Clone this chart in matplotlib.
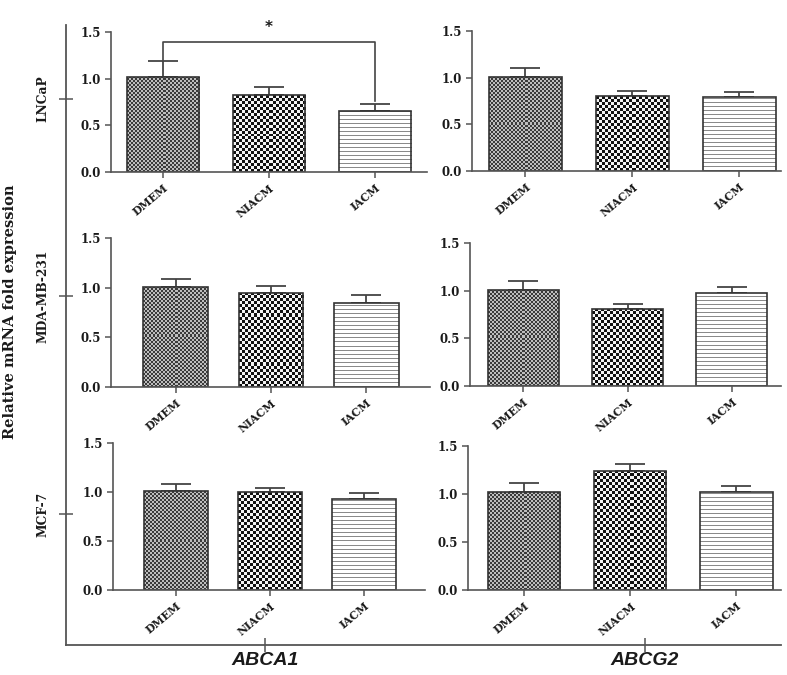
import numpy as np
import matplotlib
matplotlib.use("Agg")
import matplotlib.pyplot as plt
from matplotlib.colors import ListedColormap

groups = ["DMEM", "NIACM", "IACM"]
cell_lines = ["LNCaP", "MDA-MB-231", "MCF-7"]
genes = ["ABCA1", "ABCG2"]

# mean fold expression and upper error (SEM), rows = cell lines
abca1_mean = [[1.02, 0.82, 0.65],
              [1.01, 0.95, 0.85],
              [1.01, 1.00, 0.93]]
abca1_err = [[0.17, 0.09, 0.08],
             [0.08, 0.07, 0.08],
             [0.07, 0.04, 0.06]]
abcg2_mean = [[1.01, 0.80, 0.79],
              [1.01, 0.81, 0.98],
              [1.02, 1.24, 1.02]]
abcg2_err = [[0.09, 0.06, 0.06],
             [0.09, 0.05, 0.06],
             [0.09, 0.07, 0.06]]
yticks = [0.0, 0.5, 1.0, 1.5]
ytick_labels = ["0.0", "0.5", "1.0", "1.5"]
bracket_y = 1.39

W, H = 787, 675
# panel boxes in pixels: left, right, top, bottom
boxes = {(0, 0): (111, 427, 32, 172), (0, 1): (472, 781, 31, 171),
         (1, 0): (111, 430, 238, 387), (1, 1): (470, 781, 243, 386),
         (2, 0): (113, 425, 443, 590), (2, 1): (468, 781, 446, 590)}
xlims = {(0, 0): (-0.49, 2.49), (0, 1): (-0.50, 2.39),
         (1, 0): (-0.68, 2.67), (1, 1): (-0.51, 2.47),
         (2, 0): (-0.67, 2.65), (2, 1): (-0.53, 2.42)}
# outer frame box and its tick positions (pixels)
frame = (66, 781, 25, 645)
row_ticks_px = [99, 296, 514]
col_ticks_px = [265, 645]

axcol = "#555555"
txtcol = "#1a1a1a"


def px_rect(l, r, t, b):
    return [l / W, 1 - b / H, (r - l) / W, (b - t) / H]


def fill_bar(ax, patch, kind):
    x0, y0 = patch.get_x(), patch.get_y()
    w, h = patch.get_width(), patch.get_height()
    p0 = ax.transData.transform((x0, y0))
    p1 = ax.transData.transform((x0 + w, y0 + h))
    wpx, hpx = p1[0] - p0[0], p1[1] - p0[1]
    if kind == 0:
        cell, cols = 2.0, ["#3a3a3a", "#bdbdbd"]
    elif kind == 1:
        cell, cols = 3.0, ["#111111", "#f4f4f4"]
    else:
        cell, cols = 1.0, ["#8a8a8a", "#ffffff"]
    nx = max(1, int(round(wpx / cell)))
    ny = max(1, int(round(hpx / cell)))
    ii, jj = np.indices((ny, nx))
    if kind == 2:
        pat = (ii % 4 != 0).astype(int)
    else:
        pat = (ii + jj) % 2
    im = ax.imshow(pat, cmap=ListedColormap(cols), vmin=0, vmax=1,
                   extent=(x0, x0 + w, y0, y0 + h), origin="lower",
                   interpolation="nearest", aspect="auto", zorder=1.5)
    im.set_clip_path(patch)


fig = plt.figure(figsize=(W / 100, H / 100), dpi=100)

# outer frame
fl, fr, ft, fb = frame
outer = fig.add_axes(px_rect(fl, fr, ft, fb))
outer.set_xlim(fl, fr)
outer.set_ylim(fb, ft)
outer.patch.set_alpha(0)
for s in ["top", "right"]:
    outer.spines[s].set_visible(False)
for s in ["left", "bottom"]:
    outer.spines[s].set_color(axcol)
    outer.spines[s].set_linewidth(1.3)

data = [abca1_mean, abcg2_mean]
errs = [abca1_err, abcg2_err]
x = np.arange(len(groups))

for (r, c), (l, rr, t, b) in boxes.items():
    ax = fig.add_axes(px_rect(l, rr, t, b))
    ax.set_xlim(*xlims[(r, c)])
    ax.set_ylim(0, 1.5)
    vals = data[c][r]
    ev = errs[c][r]
    bars = ax.bar(x, vals, width=0.68, facecolor="none", edgecolor="#333333",
                  linewidth=1.2, zorder=2,
                  yerr=[np.zeros(3), ev], capsize=11,
                  error_kw=dict(ecolor="#444444", elinewidth=1.3, capthick=1.3, zorder=1))
    for k, p in enumerate(bars.patches):
        fill_bar(ax, p, k)
    ax.set_xlim(*xlims[(r, c)])
    ax.set_ylim(0, 1.5)
    for s in ["top", "right"]:
        ax.spines[s].set_visible(False)
    for s in ["left", "bottom"]:
        ax.spines[s].set_color(axcol)
        ax.spines[s].set_linewidth(1.2)
    ax.set_yticks(yticks)
    ax.set_yticklabels(ytick_labels, family="DejaVu Serif", fontweight="bold",
                       fontsize=8.5, color=txtcol)
    ax.set_xticks(x)
    ax.set_xticklabels(groups, family="DejaVu Serif", fontweight="bold",
                       fontsize=7.8, color=txtcol, rotation=40, ha="right",
                       rotation_mode="anchor")
    ax.tick_params(axis="both", color=axcol, width=1.1, length=4.5, pad=2.5)
    ax.tick_params(axis="x", pad=3)

    if (r, c) == (0, 0):
        top_l = vals[0] + ev[0]
        top_r = vals[2] + ev[2] + 0.03
        ax.plot([0, 0, 2, 2], [top_l, bracket_y, bracket_y, top_r],
                color="#444444", lw=1.2, clip_on=False, zorder=3)
        ax.text(1, bracket_y + 0.08, "*", ha="center", va="bottom",
                fontsize=11, fontweight="bold", color=txtcol, clip_on=False)

outer.set_yticks(row_ticks_px)
outer.set_yticklabels(cell_lines, rotation=90, va="center", family="DejaVu Serif",
                      fontweight="bold", fontsize=8.8, color=txtcol)
outer.set_xticks(col_ticks_px)
outer.set_xticklabels(genes, family="Liberation Sans", style="italic",
                      fontweight="bold", fontsize=14, color=txtcol)
outer.tick_params(axis="both", direction="inout", length=10, width=1.1, color=axcol)
outer.tick_params(axis="y", pad=7)
outer.tick_params(axis="x", pad=0)
outer.set_ylabel("Relative mRNA fold expression", family="DejaVu Serif",
                 fontweight="bold", fontsize=10.5, color=txtcol)
outer.yaxis.set_label_coords((17 - fl) / (fr - fl), (fb - 312) / (fb - ft))

fig.savefig("out.png", dpi=100, facecolor="white")
